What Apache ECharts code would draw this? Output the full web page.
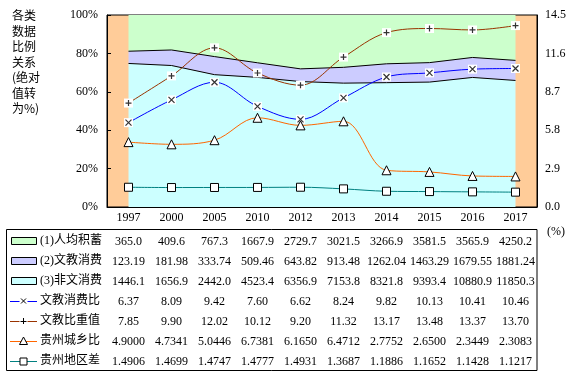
<!DOCTYPE html>
<html>
<head>
<meta charset="utf-8">
<script src="https://cdn.jsdelivr.net/npm/echarts@6/dist/echarts.min.js"></script>
<style>
html, body { margin: 0; padding: 0; background: #fff; }
#chart { width: 577px; height: 376px; }
</style>
</head>
<body>
<div id="chart"></div>
<script>
// data
const years = ['1997', '2000', '2005', '2010', '2012', '2013', '2014', '2015', '2016', '2017']
const savings = [365.0, 409.6, 767.3, 1667.9, 2729.7, 3021.5, 3266.9, 3581.5, 3565.9, 4250.2]
const eduSpend = [123.19, 181.98, 333.74, 509.46, 643.82, 913.48, 1262.04, 1463.29, 1679.55, 1881.24]
const otherSpend = [1446.1, 1656.9, 2442.0, 4523.4, 6356.9, 7153.8, 8321.8, 9393.4, 10880.9, 11850.3]
const eduRatio = [6.37, 8.09, 9.42, 7.60, 6.62, 8.24, 9.82, 10.13, 10.41, 10.46]
const eduWeight = [7.85, 9.90, 12.02, 10.12, 9.20, 11.32, 13.17, 13.48, 13.37, 13.70]
const urbanRural = [4.9000, 4.7341, 5.0446, 6.7381, 6.1650, 6.4712, 2.7752, 2.6500, 2.3449, 2.3083]
const regionGap = [1.4906, 1.4699, 1.4747, 1.4777, 1.4931, 1.3687, 1.1886, 1.1652, 1.1428, 1.1217]

const SERIF = '"Liberation Serif", "Noto Sans CJK SC", serif'
const CJK = '"Noto Sans CJK SC", sans-serif'

// absolute values -> share of the total (%)
const totals = years.map((y, i) => savings[i] + eduSpend[i] + otherSpend[i])
const pct = arr => arr.map((v, i) => v / totals[i] * 100)

const crossPath = 'path://M0,0L10,10M10,0L0,10'
const plusPath = 'path://M5,0L5,10M0,5L10,5'

// table rows (name, values, decimals, key style)
const rows = [
  { name: '(1)人均积蓄', data: savings, digits: 1, key: 'area', color: '#CCFFCC' },
  { name: '(2)文教消费', data: eduSpend, digits: 2, key: 'area', color: '#CCCCFF' },
  { name: '(3)非文消费', data: otherSpend, digits: 1, key: 'area', color: '#CCFFFF' },
  { name: '文教消费比', data: eduRatio, digits: 2, key: 'cross', color: '#0000FF' },
  { name: '文教比重值', data: eduWeight, digits: 2, key: 'plus', color: '#993300' },
  { name: '贵州城乡比', data: urbanRural, digits: 4, key: 'triangle', color: '#FF6600' },
  { name: '贵州地区差', data: regionGap, digits: 4, key: 'square', color: '#008080' },
]

const axisBottom = 207
const rowTop = 229
const rowH = 20

const xAxes = [{
  type: 'category',
  data: years,
  boundaryGap: true,
  axisLine: { lineStyle: { color: '#000', width: 1 } },
  axisTick: { interval: 0, length: 163, lineStyle: { color: '#000' } },
  axisLabel: { interval: 0, margin: 5, color: '#000', fontFamily: SERIF, fontSize: 12 },
}]
rows.forEach((r, i) => {
  xAxes.push({
    type: 'category',
    position: 'bottom',
    offset: 25 + rowH * i,
    data: r.data.map(v => v.toFixed(r.digits)),
    boundaryGap: true,
    axisLine: { show: false },
    axisTick: { show: false },
    axisLabel: { interval: 0, margin: 4, color: '#000', fontFamily: SERIF, fontSize: 12 },
  })
})

const lineBase = {
  type: 'line',
  yAxisIndex: 1,
  smooth: 0.35,
  z: 3,
  animation: false,
}
const glyph = (data, path) => ({
  type: 'scatter',
  yAxisIndex: 1,
  data: data,
  symbol: path,
  symbolSize: 6,
  itemStyle: { color: 'rgba(0,0,0,0)', borderColor: '#000', borderWidth: 1.2 },
  z: 4,
  silent: true,
  animation: false,
})

// legend column of the data table
const graphics = [
  {
    type: 'text', x: 12, y: 8,
    style: { text: '各类\n数据\n比例\n关系\n(绝对\n值转\n为%)', fontFamily: CJK, fontSize: 12, lineHeight: 15.5, fill: '#000' },
  },
  {
    type: 'text', x: 547, y: 226,
    style: { text: '(%)', fontFamily: SERIF, fontSize: 12, fill: '#000' },
  },
  {
    type: 'rect',
    shape: { x: 6.5, y: rowTop + 0.5, width: 530.5, height: 141 },
    style: { fill: 'none', stroke: '#000', lineWidth: 1 },
  },
]
rows.forEach((r, i) => {
  const cy = rowTop + 12 + rowH * i
  if (r.key === 'area') {
    graphics.push({
      type: 'rect',
      shape: { x: 11.5, y: cy - 3.5, width: 25, height: 7 },
      style: { fill: r.color, stroke: '#000', lineWidth: 1 },
    })
  } else {
    graphics.push({
      type: 'line',
      shape: { x1: 10, y1: cy + 0.5, x2: 37, y2: cy + 0.5 },
      style: { stroke: r.color, lineWidth: 1 },
    })
    const mx = 23.5
    if (r.key === 'cross') {
      graphics.push({ type: 'rect', shape: { x: mx - 4, y: cy - 4, width: 8, height: 8 }, style: { fill: '#fff' } })
      graphics.push({ type: 'line', shape: { x1: mx - 2.5, y1: cy - 2.5, x2: mx + 2.5, y2: cy + 2.5 }, style: { stroke: '#000' } })
      graphics.push({ type: 'line', shape: { x1: mx + 2.5, y1: cy - 2.5, x2: mx - 2.5, y2: cy + 2.5 }, style: { stroke: '#000' } })
    } else if (r.key === 'plus') {
      graphics.push({ type: 'rect', shape: { x: mx - 4, y: cy - 4, width: 8, height: 8 }, style: { fill: '#fff' } })
      graphics.push({ type: 'line', shape: { x1: mx, y1: cy - 3, x2: mx, y2: cy + 3 }, style: { stroke: '#000' } })
      graphics.push({ type: 'line', shape: { x1: mx - 3, y1: cy + 0.5, x2: mx + 3, y2: cy + 0.5 }, style: { stroke: '#000' } })
    } else if (r.key === 'triangle') {
      graphics.push({
        type: 'polygon',
        shape: { points: [[mx, cy - 4], [mx + 4, cy + 3.5], [mx - 4, cy + 3.5]] },
        style: { fill: '#fff', stroke: '#000', lineWidth: 1 },
      })
    } else {
      graphics.push({
        type: 'rect',
        shape: { x: mx - 3.5, y: cy - 3, width: 7, height: 7 },
        style: { fill: '#fff', stroke: '#000', lineWidth: 1 },
      })
    }
  }
  graphics.push({
    type: 'text', x: 40, y: cy,
    style: { text: r.name, fontFamily: SERIF, fontSize: 12, fill: '#000', verticalAlign: 'middle' },
  })
})

const chart = echarts.init(document.getElementById('chart'))
chart.setOption({
  animation: false,
  backgroundColor: '#fff',
  grid: {
    left: 107, right: 40, top: 15, bottom: 376 - axisBottom,
    show: true, backgroundColor: '#FFCC99', borderColor: '#000', borderWidth: 1,
  },
  xAxis: xAxes,
  yAxis: [
    {
      type: 'value', min: 0, max: 100, interval: 20,
      axisLine: { show: true, lineStyle: { color: '#000' } },
      axisTick: { show: true, inside: true, length: 4, lineStyle: { color: '#000' } },
      axisLabel: { formatter: '{value}%', margin: 9, color: '#000', fontFamily: SERIF, fontSize: 12 },
      splitLine: { show: false },
    },
    {
      type: 'value', min: 0, max: 14.5, interval: 2.9, position: 'right',
      axisLine: { show: true, lineStyle: { color: '#000' } },
      axisTick: { show: false },
      axisLabel: { formatter: v => v.toFixed(1), margin: 8, color: '#000', fontFamily: SERIF, fontSize: 12 },
      splitLine: { show: false },
    },
  ],
  series: [
    {
      name: '(3)非文消费', type: 'line', stack: 'share', data: pct(otherSpend),
      symbol: 'none', areaStyle: { color: '#CCFFFF', opacity: 1 },
      lineStyle: { color: '#000', width: 1 }, z: 2,
    },
    {
      name: '(2)文教消费', type: 'line', stack: 'share', data: pct(eduSpend),
      symbol: 'none', areaStyle: { color: '#CCCCFF', opacity: 1 },
      lineStyle: { color: '#000', width: 1 }, z: 2,
    },
    {
      name: '(1)人均积蓄', type: 'line', stack: 'share', data: pct(savings),
      symbol: 'none', areaStyle: { color: '#CCFFCC', opacity: 1 },
      lineStyle: { width: 0 }, z: 1,
    },
    {
      ...lineBase, name: '文教消费比', data: eduRatio,
      symbol: 'rect', symbolSize: 9, itemStyle: { color: '#fff', borderWidth: 0 },
      lineStyle: { color: '#0000FF', width: 1 },
    },
    glyph(eduRatio, crossPath),
    {
      ...lineBase, name: '文教比重值', data: eduWeight,
      symbol: 'rect', symbolSize: 9, itemStyle: { color: '#fff', borderWidth: 0 },
      lineStyle: { color: '#993300', width: 1 },
    },
    glyph(eduWeight, plusPath),
    {
      ...lineBase, name: '贵州城乡比', data: urbanRural,
      symbol: 'triangle', symbolSize: 9, itemStyle: { color: '#fff', borderColor: '#000', borderWidth: 1 },
      lineStyle: { color: '#FF6600', width: 1 },
    },
    {
      ...lineBase, name: '贵州地区差', data: regionGap,
      symbol: 'rect', symbolSize: 8, itemStyle: { color: '#fff', borderColor: '#000', borderWidth: 1 },
      lineStyle: { color: '#008080', width: 1 },
    },
  ],
  graphic: graphics,
})
</script>
</body>
</html>
